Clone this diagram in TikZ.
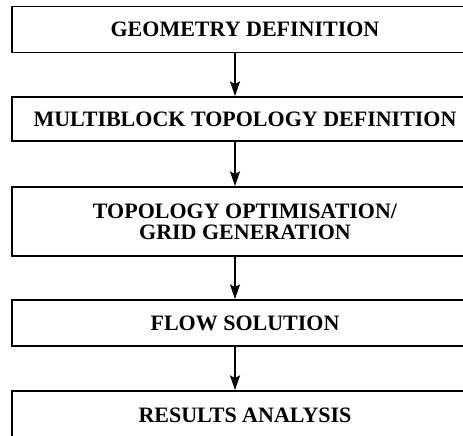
\documentclass[tikz,border=0pt]{standalone}
\usepackage{fontspec}
\setmainfont{Liberation Serif}
\usetikzlibrary{arrows.meta}

\tikzset{
  stagebox/.style={draw, line width=1.4pt, minimum width=349.5pt, inner sep=0pt,
    align=center, font=\fontsize{16.5}{16}\selectfont\bfseries},
  flowarrow/.style={line width=1.2pt, -{Stealth[length=11pt,width=7.5pt,inset=2pt]}}
}

\begin{document}
\begin{tikzpicture}[x=0.75pt,y=0.75pt,yscale=-1,xscale=1]
\useasboundingbox (0,0) rectangle (463,435);
\clip (0,0) rectangle (463,435);

% Boxes
\node [stagebox, minimum height=34.5pt] (geom) at (245,29.5) {GEOMETRY DEFINITION};
\node [stagebox, minimum height=33pt] (topo) at (245,119) {MULTIBLOCK TOPOLOGY DEFINITION};
\node [stagebox, minimum height=51.75pt] (grid) at (245,221.5) {TOPOLOGY OPTIMISATION/\\GRID GENERATION};
\node [stagebox, minimum height=34.5pt] (flow) at (245,323) {FLOW SOLUTION};
\node [stagebox, minimum height=36.75pt] (res) at (245,415.5) {RESULTS ANALYSIS};

% Arrows
\draw [flowarrow] ([xshift=-7.5pt]geom.south) -- ([xshift=-7.5pt]topo.north);
\draw [flowarrow] ([xshift=-7.5pt]topo.south) -- ([xshift=-7.5pt]grid.north);
\draw [flowarrow] ([xshift=-7.5pt]grid.south) -- ([xshift=-7.5pt]flow.north);
\draw [flowarrow] ([xshift=-7.5pt]flow.south) -- ([xshift=-7.5pt]res.north);

\end{tikzpicture}
\end{document}
